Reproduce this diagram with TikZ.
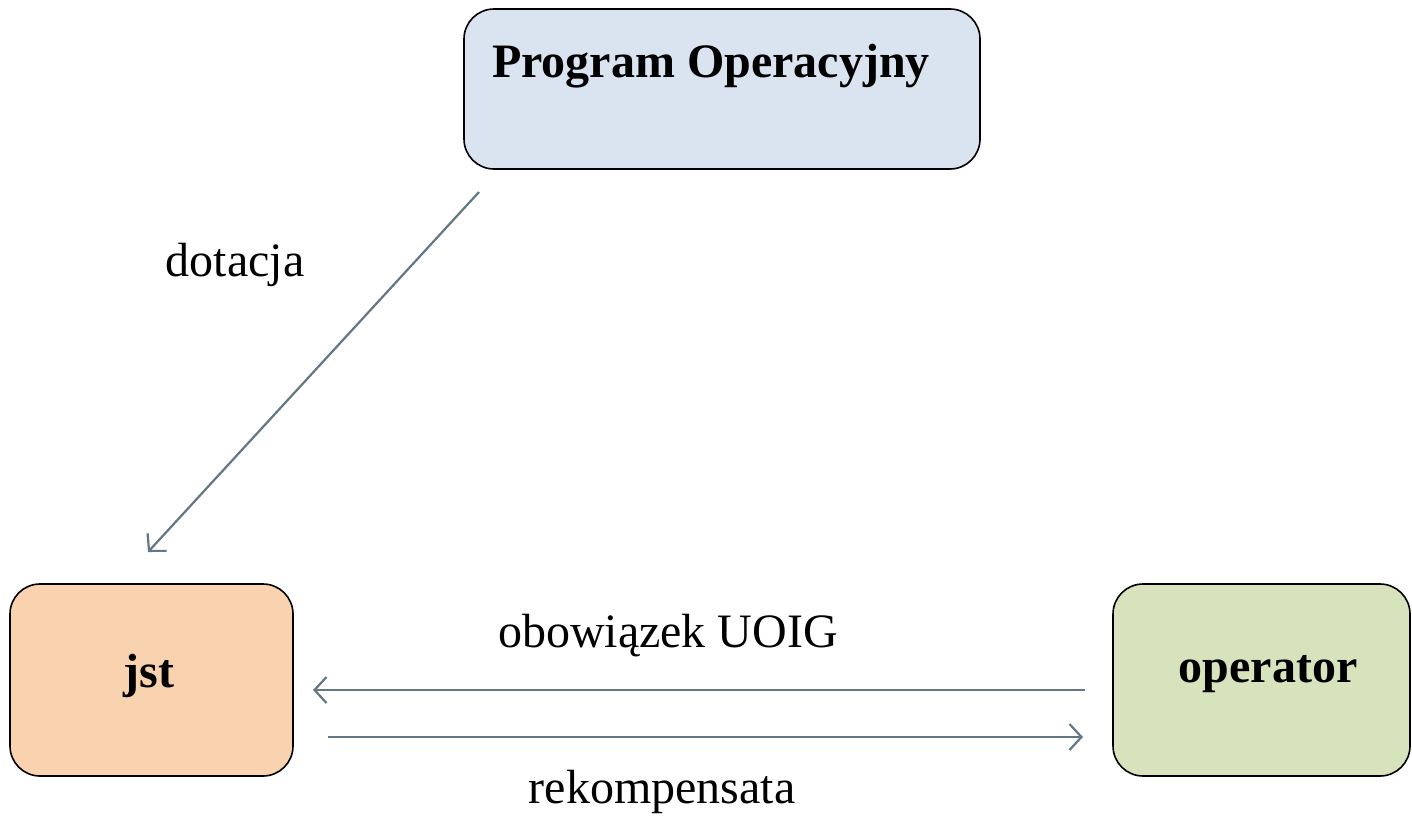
\documentclass[tikz,border=0pt]{standalone}
\usepackage{fontspec}
\setmainfont{Liberation Serif}
\usetikzlibrary{arrows.meta}
\definecolor{poblue}{HTML}{DAE3F0}
\definecolor{jstor}{HTML}{F9D3B0}
\definecolor{opgreen}{HTML}{D7E3BC}
\definecolor{arrgray}{HTML}{637884}
\tikzset{
  box/.style={draw=black, line width=1.6pt, rounded corners=30pt},
  conn/.style={draw=arrgray, line width=2.2pt, -{Straight Barb[length=12pt,width=26pt,line width=2.2pt]}},
  lbl/.style={font=\fontsize{48}{56}\selectfont, inner sep=0pt},
  blbl/.style={font=\fontsize{48}{56}\selectfont\bfseries, inner sep=0pt}
}
\begin{document}
\begin{tikzpicture}[x=1pt,y=-1pt]
\useasboundingbox (0,0) rectangle (1412,819);
\fill[white] (0,0) rectangle (1412,819);
\draw[box, fill=poblue] (464,9) rectangle (980,169);
\node[blbl, anchor=base west] (po) at (492,77) {Program Operacyjny};
\draw[box, fill=jstor] (10,584) rectangle (293,776);
\node[blbl] (jst) at (149,676) {jst};
\draw[box, fill=opgreen] (1113,584) rectangle (1410,776);
\node[blbl] (op) at (1268,674) {operator};
\coordinate (a1) at (479,192);
\coordinate (a2) at (148,552);
\coordinate (b1) at (1085,690);
\coordinate (b2) at (313,690);
\coordinate (c1) at (328,737);
\coordinate (c2) at (1083,737);
\draw[conn] (a1) -- (a2);
\draw[conn] (b1) -- (b2);
\draw[conn] (c1) -- (c2);
\node[lbl] (dot) at (235,265) {dotacja};
\node[lbl] (obo) at (668,636) {obowiązek UOIG};
\node[lbl] (rek) at (662,792) {rekompensata};
\end{tikzpicture}
\end{document}
